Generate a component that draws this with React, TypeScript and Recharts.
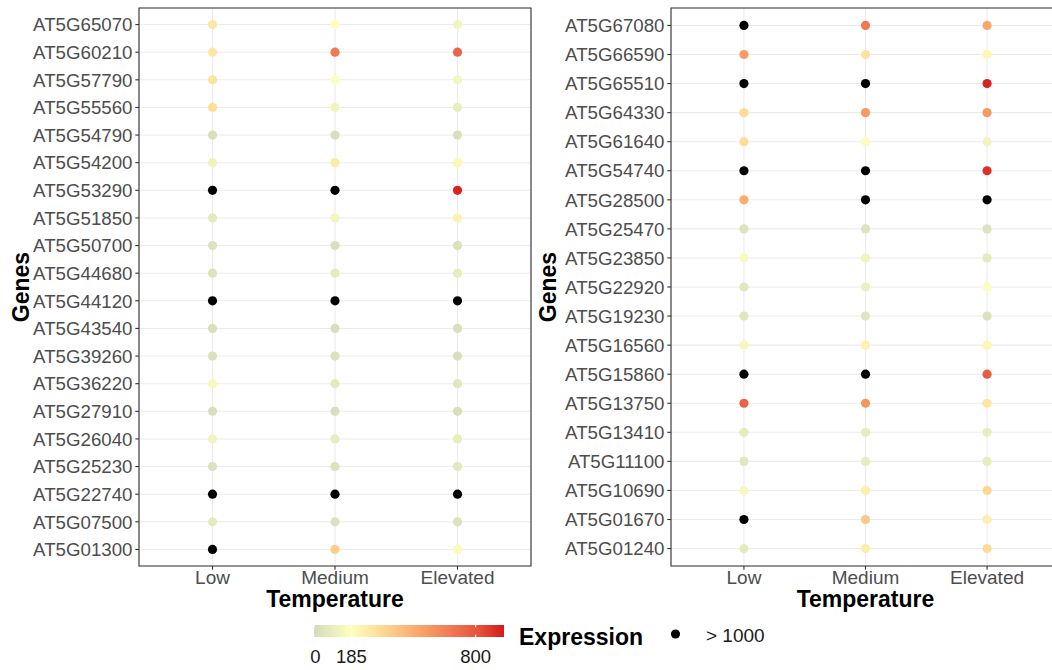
import React from 'react';
import {
  ScatterChart,
  Scatter,
  XAxis,
  YAxis,
  CartesianGrid,
  ReferenceArea,
  Label,
} from 'recharts';

// temperature levels (x axis)
const temps = ['Low', 'Medium', 'Elevated'];

// left panel, top to bottom
const genesLeft = [
  'AT5G65070', 'AT5G60210', 'AT5G57790', 'AT5G55560', 'AT5G54790',
  'AT5G54200', 'AT5G53290', 'AT5G51850', 'AT5G50700', 'AT5G44680',
  'AT5G44120', 'AT5G43540', 'AT5G39260', 'AT5G36220', 'AT5G27910',
  'AT5G26040', 'AT5G25230', 'AT5G22740', 'AT5G07500', 'AT5G01300',
];
const lowLeft = [280, 280, 300, 320, 20, 120, 1400, 70, 40, 40, 1600, 20, 30, 150, 20, 130, 35, 1500, 80, 1300];
const medLeft = [190, 680, 195, 130, 20, 270, 1250, 140, 25, 80, 1500, 20, 30, 70, 20, 90, 35, 1400, 35, 380];
const elevLeft = [130, 750, 140, 90, 20, 220, 920, 240, 30, 90, 1450, 20, 25, 60, 20, 90, 60, 1350, 35, 210];

// right panel, top to bottom
const genesRight = [
  'AT5G67080', 'AT5G66590', 'AT5G65510', 'AT5G64330', 'AT5G61640',
  'AT5G54740', 'AT5G28500', 'AT5G25470', 'AT5G23850', 'AT5G22920',
  'AT5G19230', 'AT5G16560', 'AT5G15860', 'AT5G13750', 'AT5G13410',
  'AT5G11100', 'AT5G10690', 'AT5G01670', 'AT5G01240',
];
const lowRight = [1300, 560, 1700, 330, 320, 1500, 500, 40, 160, 60, 50, 150, 1200, 750, 80, 60, 150, 1100, 80];
const medRight = [680, 300, 1400, 560, 170, 1300, 1250, 40, 130, 110, 50, 240, 1150, 580, 90, 90, 250, 400, 260];
const elevRight = [520, 220, 920, 560, 130, 890, 1100, 40, 80, 170, 30, 220, 780, 290, 90, 90, 340, 250, 330];

// colour scale
const COLOR_MAX = 940;
const legendTicks = [0, 185, 800];
const colorStops: [number, string][] = [
  [0, '#d3dbbd'],
  [185, '#ffffbf'],
  [350, '#fed692'],
  [520, '#f9a66b'],
  [700, '#ef7350'],
  [820, '#e4523a'],
  [940, '#d7191c'],
];

const hex = (c: string) => [1, 3, 5].map((i) => parseInt(c.slice(i, i + 2), 16));

function colorFor(v: number) {
  if (v > 1000) return '#000000';
  for (let i = 1; i < colorStops.length; i++) {
    const [v0, c0] = colorStops[i - 1];
    const [v1, c1] = colorStops[i];
    if (v <= v1) {
      const t = (v - v0) / (v1 - v0);
      const a = hex(c0);
      const b = hex(c1);
      const m = a.map((x, k) => Math.round(x + (b[k] - x) * t));
      return `rgb(${m[0]},${m[1]},${m[2]})`;
    }
  }
  return colorStops[colorStops.length - 1][1];
}

const FONT = '"Liberation Sans", Arial, sans-serif';

function buildPoints(genes: string[], cols: number[][]) {
  const pts: { x: number; y: number; value: number }[] = [];
  genes.forEach((g, i) => {
    cols.forEach((col, j) => {
      pts.push({ x: j, y: i, value: col[i] });
    });
  });
  return pts;
}

const Dot = (props: any) => (
  <circle cx={props.cx} cy={props.cy} r={4.6} fill={colorFor(props.payload.value)} />
);

const XTick = (props: any) => {
  const { x, y, payload } = props;
  return (
    <g>
      <line x1={x} x2={x} y1={y - 8} y2={y - 4.3} stroke="#333333" strokeWidth={1.1} />
      <text x={x} y={y + 10} textAnchor="middle" fontSize={19} fill="#4d4d4d" fontFamily={FONT}>
        {temps[payload.value]}
      </text>
    </g>
  );
};

const makeYTick = (genes: string[]) => (props: any) => {
  const { x, y, payload } = props;
  return (
    <g>
      <line x1={x + 8} x2={x + 4.3} y1={y} y2={y} stroke="#333333" strokeWidth={1.1} />
      <text x={x + 1.5} y={y} dy="0.36em" textAnchor="end" fontSize={18.7} fill="#4d4d4d" fontFamily={FONT}>
        {genes[payload.value]}
      </text>
    </g>
  );
};

function Panel({ genes, cols, width, yAxisWidth, rightMargin, titleX }: any) {
  const n = genes.length;
  const data = buildPoints(genes, cols);
  const yTicks = genes.map((_: string, i: number) => i);
  return (
    <ScatterChart width={width} height={670} margin={{ top: 8, right: rightMargin, bottom: 44, left: 0 }}>
      <CartesianGrid stroke="#ebebeb" strokeWidth={1.1} />
      <XAxis
        type="number"
        dataKey="x"
        domain={[-0.6, 2.6]}
        ticks={[0, 1, 2]}
        interval={0}
        allowDataOverflow
        axisLine={false}
        tickLine={false}
        height={60}
        tick={<XTick />}
      >
        <Label
          content={({ viewBox }: any) => (
            <text
              x={viewBox.x + viewBox.width / 2}
              y={viewBox.y + 41}
              textAnchor="middle"
              fontSize={23}
              fontWeight="bold"
              fill="#000"
              fontFamily={FONT}
            >
              Temperature
            </text>
          )}
        />
      </XAxis>
      <YAxis
        type="number"
        dataKey="y"
        domain={[-0.6, n - 0.4]}
        ticks={yTicks}
        interval={0}
        reversed
        allowDataOverflow
        axisLine={false}
        tickLine={false}
        width={yAxisWidth}
        tick={makeYTick(genes)}
      >
        <Label
          content={({ viewBox }: any) => {
            const cx = viewBox.x + titleX;
            const cy = viewBox.y + viewBox.height / 2;
            return (
              <text
                x={cx}
                y={cy}
                transform={`rotate(-90 ${cx} ${cy})`}
                textAnchor="middle"
                fontSize={23}
                fontWeight="bold"
                fill="#000"
                fontFamily={FONT}
              >
                Genes
              </text>
            );
          }}
        />
      </YAxis>
      <Scatter data={data} shape={Dot} isAnimationActive={false} />
      <ReferenceArea
        x1={-0.6}
        x2={2.6}
        y1={-0.6}
        y2={n - 0.4}
        fill="none"
        fillOpacity={0}
        stroke="#333333"
        strokeWidth={1.1}
      />
    </ScatterChart>
  );
}

function Legend() {
  const barX = 314;
  const barW = 190;
  const barY = 625;
  const barH = 12;
  const px = (v: number) => barX + (v / COLOR_MAX) * barW;
  return (
    <svg width={1052} height={670} style={{ position: 'absolute', left: 0, top: 0, pointerEvents: 'none' }}>
      <defs>
        <linearGradient id="exprGrad" x1="0" x2="1" y1="0" y2="0">
          {colorStops.map(([v, c]) => (
            <stop key={v} offset={v / COLOR_MAX} stopColor={c} />
          ))}
        </linearGradient>
      </defs>
      <rect x={barX} y={barY} width={barW} height={barH} fill="url(#exprGrad)" />
      {legendTicks.map((t) => (
        <g key={t}>
          <line x1={px(t)} x2={px(t)} y1={barY} y2={barY + 2.4} stroke="#fff" strokeWidth={1} />
          <line x1={px(t)} x2={px(t)} y1={barY + barH - 2.4} y2={barY + barH} stroke="#fff" strokeWidth={1} />
          <text x={px(t) + (t === 0 ? 1.5 : 0)} y={663} textAnchor="middle" fontSize={18.5} fill="#1a1a1a" fontFamily={FONT}>
            {t}
          </text>
        </g>
      ))}
      <text x={519} y={645} fontSize={23} fontWeight="bold" fill="#000" fontFamily={FONT}>
        Expression
      </text>
      <circle cx={675.5} cy={634} r={4.6} fill="#000" />
      <text x={706} y={642} fontSize={19} fill="#1a1a1a" fontFamily={FONT}>
        {'> 1000'}
      </text>
    </svg>
  );
}

export default function App() {
  return (
    <div
      style={{
        position: 'absolute',
        left: 0,
        top: 0,
        width: 1052,
        height: 670,
        overflow: 'hidden',
        background: '#fff',
        fontFamily: FONT,
      }}
    >
      <div style={{ position: 'absolute', left: 0, top: 0 }}>
        <Panel genes={genesLeft} cols={[lowLeft, medLeft, elevLeft]} width={535} yAxisWidth={139} rightMargin={4} titleX={29} />
      </div>
      <div style={{ position: 'absolute', left: 535, top: 0 }}>
        <Panel genes={genesRight} cols={[lowRight, medRight, elevRight]} width={535} yAxisWidth={136} rightMargin={10} titleX={21} />
      </div>
      <Legend />
    </div>
  );
}
